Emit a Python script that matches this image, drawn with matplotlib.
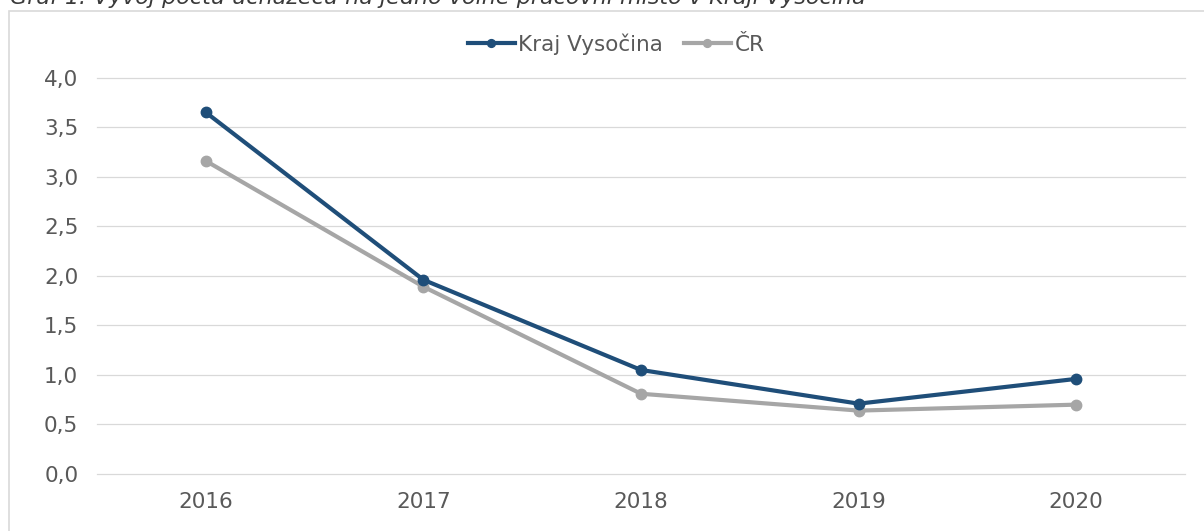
import matplotlib
matplotlib.use('Agg')
import matplotlib.pyplot as plt
import matplotlib.patches as mpatches

plt.rcParams['font.family'] = ['DejaVu Sans']

years = ['2016', '2017', '2018', '2019', '2020']
kraj_vysocina = [3.65, 1.96, 1.05, 0.71, 0.96]
cr = [3.16, 1.89, 0.81, 0.64, 0.70]
y_ticks = [0.0, 0.5, 1.0, 1.5, 2.0, 2.5, 3.0, 3.5, 4.0]

title = 'Graf 1: Vývoj počtu uchazečů na jedno volné pracovní místo v Kraji Vysočina'

fig = plt.figure(figsize=(12.04, 5.31), dpi=100)

# chart border (cut off on right and bottom)
W, H = 1204, 531
border = mpatches.Rectangle((9 / W, -0.1), 1.2, 1 - 11 / H + 0.1,
                            transform=fig.transFigure, fill=False,
                            edgecolor='#d9d9d9', linewidth=1.2)
fig.patches.append(border)

# title sits mostly above the picture, as in the source image
fig.text(10 / W, 1 - 4 / H, title, ha='left', va='baseline',
         fontsize=16, style='italic', color='#3a3a3a')

ax = fig.add_axes([97 / W, 1 - 474 / H, (1185 - 97) / W, (474 - 77.7) / H])

x = list(range(len(years)))
ax.plot(x, kraj_vysocina, color='#1f4e79', linewidth=3, marker='o',
        markersize=7.5, label='Kraj Vysočina', zorder=3)
ax.plot(x, cr, color='#a6a6a6', linewidth=3, marker='o',
        markersize=7.5, label='ČR', zorder=2)

ax.set_xlim(-0.5, len(years) - 0.5)
ax.set_ylim(0, 4)
ax.set_yticks(y_ticks)
ax.set_yticklabels([('%.1f' % v).replace('.', ',') for v in y_ticks])
ax.set_xticks(x)
ax.set_xticklabels(years)

ax.grid(axis='y', color='#d9d9d9', linewidth=0.9)
for gl in ax.get_ygridlines():
    gl.set_clip_on(False)
ax.set_axisbelow(True)
for s in ax.spines.values():
    s.set_visible(False)
ax.tick_params(length=0, labelsize=15.5, colors='#595959')
ax.tick_params(axis='y', pad=13.5)
ax.tick_params(axis='x', pad=13)

leg = ax.legend(loc='center', bbox_to_anchor=(616 / W, 1 - 44 / H),
                bbox_transform=fig.transFigure, ncol=2, frameon=False,
                fontsize=15.5, labelcolor='#595959', handlelength=2.2,
                handletextpad=0.15, columnspacing=0.95, markerscale=0.75)

fig.savefig('out.png', dpi=100)
